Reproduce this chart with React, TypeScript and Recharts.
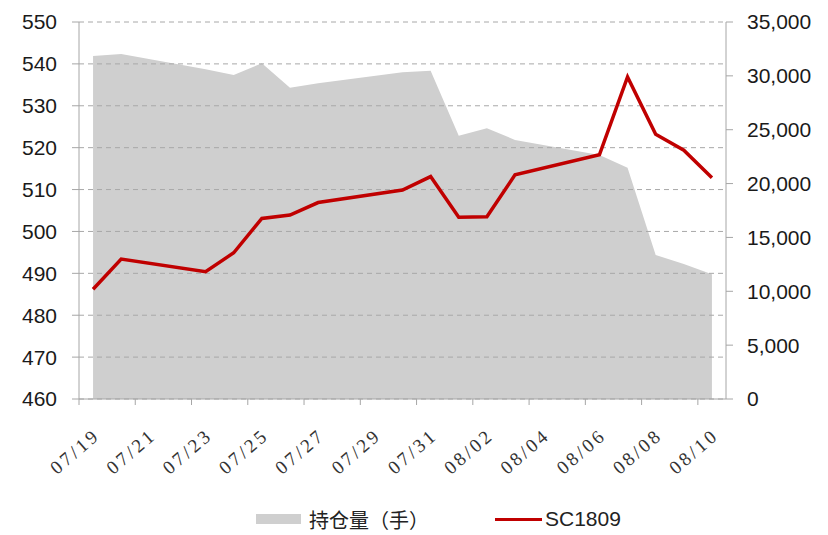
import { ComposedChart, Area, Line, XAxis, YAxis, ReferenceLine, Legend } from 'recharts';

const dates = [
  '07/19', '07/20', '07/21', '07/22', '07/23', '07/24', '07/25', '07/26', '07/27', '07/28', '07/29', '07/30',
  '07/31', '08/01', '08/02', '08/03', '08/04', '08/05', '08/06', '08/07', '08/08', '08/09', '08/10',
];
// weekends are blank in the source, the lines just bridge them
const sc1809 = [
  486.2, 493.4, null, null, 490.4, 494.9, 503.1, 503.9, 506.9, null, null, 509.9,
  513.1, 503.4, 503.5, 513.5, null, null, 518.3, 536.9, 523.2, 519.4, 512.8,
];
const openInterest = [
  31850, 32030, null, null, 30610, 30080, 31170, 28900, 29310, null, null, 30330,
  30480, 24450, 25130, 24050, null, null, 22650, 21480, 13370, 12530, 11580,
];
const priceTicks = [460, 470, 480, 490, 500, 510, 520, 530, 540, 550];
const oiTicks = [0, 5000, 10000, 15000, 20000, 25000, 30000, 35000];

const data = dates.map((d, i) => ({ date: d, oi: openInterest[i], price: sc1809[i] }));

const W = 828;
const H = 535;
const LEFT_W = 79;
const RIGHT_W = 102;
const HALF_BAND = (W - LEFT_W - RIGHT_W) / dates.length / 2;
const axisGray = '#a6a6a6';

function DateTick({ x, y, payload }: any) {
  const lx = x - HALF_BAND;
  return (
    <g>
      <line x1={lx} x2={lx} y1={y} y2={y + 6} stroke={axisGray} />
      <text
        transform={`translate(${x + 8},${y + 38}) rotate(-41)`}
        textAnchor="end"
        style={{ fontFamily: "'Liberation Serif', 'DejaVu Serif', serif", fontSize: 19, letterSpacing: 3 }}
        fill="#333"
      >
        {payload.value}
      </text>
    </g>
  );
}

function ChartLegend() {
  return (
    <div style={{ height: 44, display: 'flex', alignItems: 'center', paddingLeft: 256, paddingTop: 12, boxSizing: 'border-box' }}>
      <span style={{ width: 45, height: 10, background: '#cfcfcf', display: 'inline-block' }} />
      <span style={{ marginLeft: 8, fontSize: 20, color: '#222', fontFamily: "'Noto Sans CJK SC', sans-serif" }}>持仓量（手）</span>
      <span style={{ width: 47, height: 3, background: '#c00000', display: 'inline-block', marginLeft: 66 }} />
      <span style={{ marginLeft: 3, fontSize: 21, color: '#222', fontFamily: "'Liberation Sans', Arial, sans-serif" }}>SC1809</span>
    </div>
  );
}

export default function App() {
  const tickStyle = { fontSize: 21, fill: '#1a1a1a', fontFamily: "'Liberation Sans', Arial, sans-serif" };
  return (
    <div style={{ position: 'fixed', left: 0, top: 0, width: W, height: H, background: '#fff' }}>
      <ComposedChart width={W} height={H} data={data} margin={{ top: 22, right: 0, bottom: 0, left: 0 }}>
        <XAxis
          dataKey="date"
          interval={1}
          padding={{ left: HALF_BAND, right: HALF_BAND }}
          height={92}
          tickSize={0}
          tickMargin={0}
          tickLine={false}
          stroke={axisGray}
          tick={<DateTick />}
        />
        <YAxis
          yAxisId="left"
          domain={[460, 550]}
          ticks={priceTicks}
          width={LEFT_W}
          tickSize={7}
          tickMargin={15}
          stroke={axisGray}
          tick={tickStyle}
        />
        <YAxis
          yAxisId="right"
          orientation="right"
          domain={[0, 35000]}
          ticks={oiTicks}
          width={RIGHT_W}
          tickSize={7}
          tickMargin={14}
          stroke={axisGray}
          tick={tickStyle}
          tickFormatter={(v: number) => v.toLocaleString('en-US')}
        />
        <Legend verticalAlign="bottom" content={<ChartLegend />} />
        <Area
          yAxisId="right"
          dataKey="oi"
          name="持仓量（手）"
          type="linear"
          stroke="none"
          fill="#cfcfcf"
          fillOpacity={1}
          connectNulls
          isAnimationActive={false}
        />
        {priceTicks.map(t => (
          <ReferenceLine key={t} yAxisId="left" y={t} stroke="#a8a8a8" strokeDasharray="5 4" />
        ))}
        <Line
          yAxisId="left"
          dataKey="price"
          name="SC1809"
          type="linear"
          stroke="#c00000"
          strokeWidth={3.5}
          dot={false}
          connectNulls
          isAnimationActive={false}
        />
      </ComposedChart>
    </div>
  );
}
